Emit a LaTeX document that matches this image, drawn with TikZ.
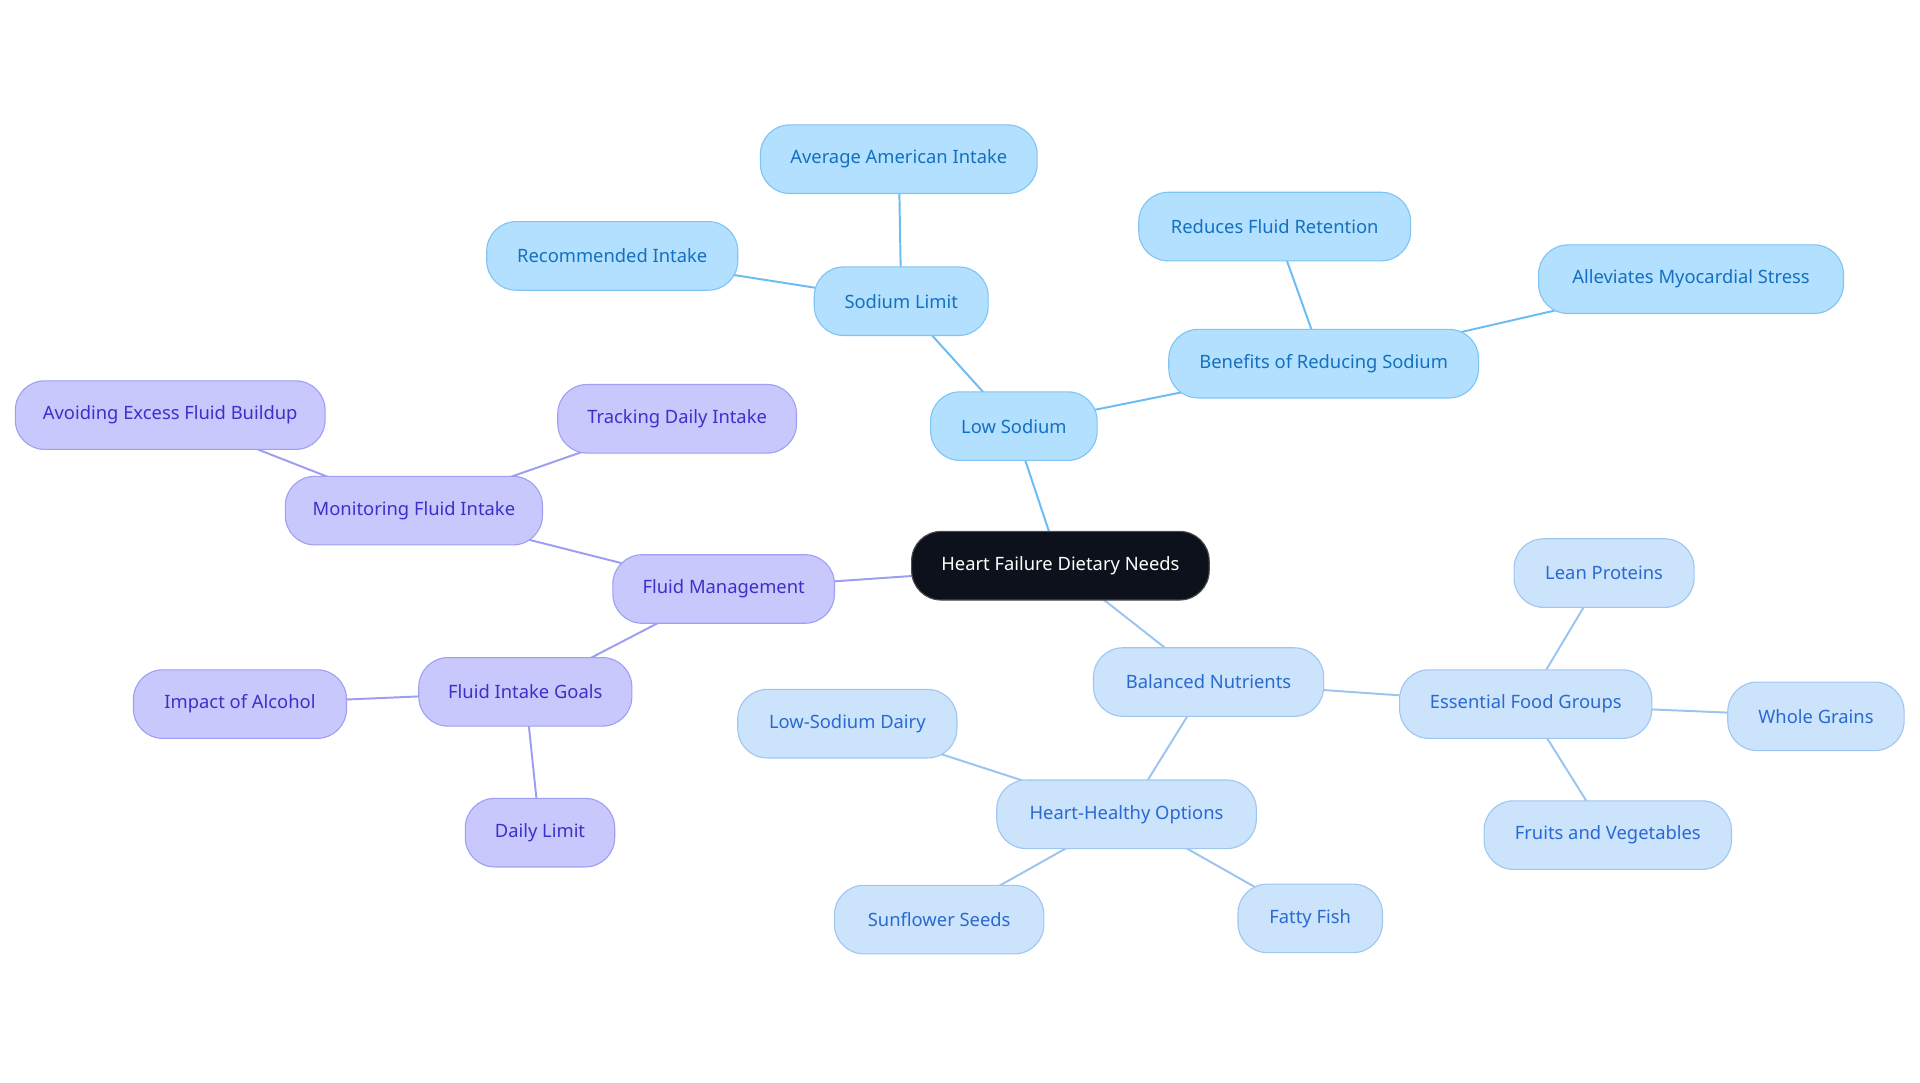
\documentclass[tikz,border=0pt]{standalone}
\usepackage{fontspec}
\setmainfont{Noto Sans}
\usepackage{xcolor}
\usetikzlibrary{positioning,backgrounds}

\definecolor{rootfill}{HTML}{0C111B}
\definecolor{skyfill}{HTML}{B3E0FE}
\definecolor{skydraw}{HTML}{7EC4F4}
\definecolor{skytext}{HTML}{1470C0}
\definecolor{skyedge}{HTML}{6CBCF2}
\definecolor{vioFill}{HTML}{C8C8FD}
\definecolor{vioDraw}{HTML}{9F9FF3}
\definecolor{vioText}{HTML}{3A32C8}
\definecolor{vioEdge}{HTML}{9D9DF2}
\definecolor{paleFill}{HTML}{CCE3FC}
\definecolor{paleDraw}{HTML}{9FC6F2}
\definecolor{paleText}{HTML}{2A6AD0}
\definecolor{paleEdge}{HTML}{9CC4F0}

\begin{document}
\begin{tikzpicture}[x=1pt,y=-1pt,
    box/.style={rectangle,rounded corners=24pt,minimum height=56pt,inner sep=0pt,
      line width=0.9pt,font=\fontsize{15}{18}\selectfont},
    rootbox/.style={box,fill=rootfill,draw=gray!60!black,text=white},
    skybox/.style={box,fill=skyfill,draw=skydraw,text=skytext},
    viobox/.style={box,fill=vioFill,draw=vioDraw,text=vioText},
    palebox/.style={box,fill=paleFill,draw=paleDraw,text=paleText},
    skylink/.style={draw=skyedge,line width=1.6pt},
    violink/.style={draw=vioEdge,line width=1.6pt},
    palelink/.style={draw=paleEdge,line width=1.6pt}]
    \useasboundingbox (0,0) rectangle (1568,884);

    % Root
    \node[rootbox,minimum width=243pt] (root) at (866,462) {Heart Failure Dietary Needs};

    % Low sodium branch
    \node[skybox,minimum width=136pt] (lowsod) at (828,348) {Low Sodium};
    \node[skybox,minimum width=142pt] (sodlim) at (736,246) {Sodium Limit};
    \node[skybox,minimum width=226pt] (avgint) at (734,130) {Average American Intake};
    \node[skybox,minimum width=205pt] (recint) at (500,209) {Recommended Intake};
    \node[skybox,minimum width=253pt] (benef) at (1081,297) {Benefits of Reducing Sodium};
    \node[skybox,minimum width=222pt] (reduce) at (1041,185) {Reduces Fluid Retention};
    \node[skybox,minimum width=249pt] (allev) at (1381,228) {Alleviates Myocardial Stress};

    % Fluid branch
    \node[viobox,minimum width=181pt] (fluid) at (591,481) {Fluid Management};
    \node[viobox,minimum width=210pt] (monitor) at (338,417) {Monitoring Fluid Intake};
    \node[viobox,minimum width=253pt] (avoid) at (139,339) {Avoiding Excess Fluid Buildup};
    \node[viobox,minimum width=195pt] (track) at (553,342) {Tracking Daily Intake};
    \node[viobox,minimum width=174pt] (goals) at (429,565) {Fluid Intake Goals};
    \node[viobox,minimum width=174pt] (alcohol) at (196,575) {Impact of Alcohol};
    \node[viobox,minimum width=122pt] (daily) at (441,680) {Daily Limit};

    % Nutrients branch
    \node[palebox,minimum width=188pt] (balanced) at (987,557) {Balanced Nutrients};
    \node[palebox,minimum width=206pt] (essential) at (1246,575) {Essential Food Groups};
    \node[palebox,minimum width=147pt] (lean) at (1310,468) {Lean Proteins};
    \node[palebox,minimum width=144pt] (whole) at (1483,585) {Whole Grains};
    \node[palebox,minimum width=202pt] (fruits) at (1313,682) {Fruits and Vegetables};
    \node[palebox,minimum width=212pt] (options) at (920,665) {Heart-Healthy Options};
    \node[palebox,minimum width=179pt] (dairy) at (692,591) {Low-Sodium Dairy};
    \node[palebox,minimum width=171pt] (seeds) at (767,751) {Sunflower Seeds};
    \node[palebox,minimum width=118pt] (fish) at (1070,750) {Fatty Fish};

    % Links
    \begin{scope}[on background layer]
      \draw[skylink] (root.center) -- (lowsod.center);
      \draw[skylink] (lowsod.center) -- (sodlim.center);
      \draw[skylink] (sodlim.center) -- (avgint.center);
      \draw[skylink] (sodlim.center) -- (recint.center);
      \draw[skylink] (lowsod.center) -- (benef.center);
      \draw[skylink] (benef.center) -- (reduce.center);
      \draw[skylink] (benef.center) -- (allev.center);

      \draw[violink] (root.center) -- (fluid.center);
      \draw[violink] (fluid.center) -- (monitor.center);
      \draw[violink] (monitor.center) -- (avoid.center);
      \draw[violink] (monitor.center) -- (track.center);
      \draw[violink] (fluid.center) -- (goals.center);
      \draw[violink] (goals.center) -- (alcohol.center);
      \draw[violink] (goals.center) -- (daily.center);

      \draw[palelink] (root.center) -- (balanced.center);
      \draw[palelink] (balanced.center) -- (essential.center);
      \draw[palelink] (essential.center) -- (lean.center);
      \draw[palelink] (essential.center) -- (whole.center);
      \draw[palelink] (essential.center) -- (fruits.center);
      \draw[palelink] (balanced.center) -- (options.center);
      \draw[palelink] (options.center) -- (dairy.center);
      \draw[palelink] (options.center) -- (seeds.center);
      \draw[palelink] (options.center) -- (fish.center);
    \end{scope}
\end{tikzpicture}
\end{document}
